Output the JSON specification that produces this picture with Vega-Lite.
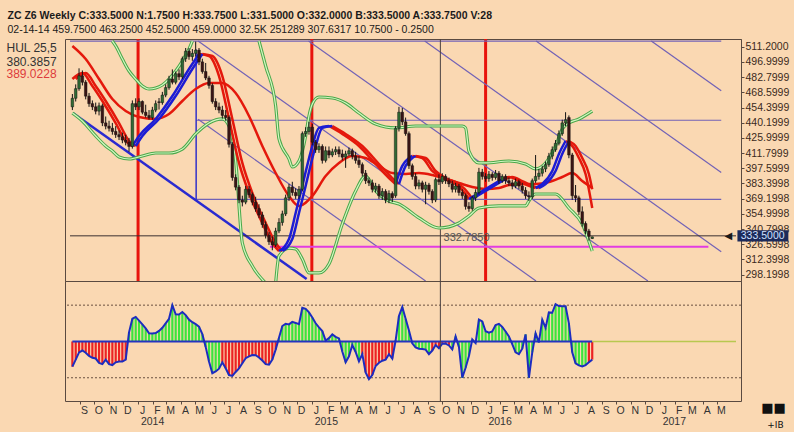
{
"$schema":"https://vega.github.io/schema/vega-lite/v6.json",
"background":"#FAD8B2",
"padding":{"left":5,"top":11,"right":4,"bottom":3},
"bounds":"flush",
"spacing":0,
"title":{"text":"ZC Z6 Weekly C:333.5000 N:1.7500 H:333.7500 L:331.5000 O:332.0000 B:333.5000 A:333.7500 V:28","subtitle":"02-14-14 459.7500 463.2500 452.5000 459.0000 32.5K 251289 307.6317 10.7500 - 0.2500","anchor":"start","frame":"bounds","dx":2,"font":"Liberation Sans","fontSize":10.5,"fontWeight":"bold","color":"#1a1a1a","subtitleFont":"Liberation Sans","subtitleFontSize":10.5,"subtitleColor":"#1a1a1a","subtitlePadding":3,"offset":2},
"config":{"view":{"stroke":"#5a4a40","strokeWidth":1},"font":"Liberation Sans"},
"datasets":{
"yr":[{"d":"2014-01-01"},{"d":"2015-01-01"},{"d":"2016-01-01"}],
"cx":[{"d":"2015-09-28"}],
"lab":[{"d":"2015-11-22","v":327.5,"t":"332.7850"}],
"arr":[{"d":"2017-05-25","v":334.5,"t":"◀"}],
"box":[{"d":"2017-06-13","d2":"2017-09-28","v":339.8,"v2":329.2,"dm":"2017-08-05","p":334.5,"t":"333.5000"}],
"corner":[{"d":"2017-08-28","v":-366,"t":"■■","f":13},{"d":"2017-09-01","v":-460,"t":"+IB","f":9}],
"sg":[
{"d":"2013-08-11","v":516.5,"d2":"2017-05-10","v2":516.5,"k":"p"},
{"d":"2014-05-03","v":442.5,"d2":"2017-05-10","v2":442.5,"k":"p"},
{"d":"2014-05-03","v":368.5,"d2":"2017-05-10","v2":368.5,"k":"p"},
{"d":"2014-05-07","v":516.5,"d2":"2016-04-16","v2":292.3,"k":"p"},
{"d":"2014-12-25","v":516.5,"d2":"2016-12-07","v2":292.3,"k":"p"},
{"d":"2015-08-26","v":516.5,"d2":"2017-05-10","v2":319.6,"k":"p"},
{"d":"2016-04-16","v":516.5,"d2":"2017-05-10","v2":393.6,"k":"p"},
{"d":"2016-12-14","v":516.5,"d2":"2017-05-10","v2":470.0,"k":"p"},
{"d":"2014-05-07","v":443.5,"d2":"2015-08-28","v2":292.3,"k":"p"},
{"d":"2014-05-03","v":508.5,"d2":"2014-05-03","v2":368.5,"k":"b"},
{"d":"2013-08-17","v":449.3,"d2":"2014-12-21","v2":294.2,"k":"B"},
{"d":"2014-10-05","v":324.3,"d2":"2017-04-13","v2":324.3,"k":"m"},
{"d":"2013-08-11","v":334.5,"d2":"2017-06-10","v2":334.5,"k":"x"}
],
"bd":[
{"d":"2013-11-08","v":516.5,"g":"U1"},{"d":"2013-11-15","v":511.9,"g":"U1"},{"d":"2013-11-29","v":499.7,"g":"U1"},{"d":"2013-12-13","v":488.5,"g":"U1"},{"d":"2013-12-27","v":481.0,"g":"U1"},{"d":"2014-01-10","v":474.5,"g":"U1"},{"d":"2014-01-24","v":471.7,"g":"U1"},{"d":"2014-02-07","v":472.6,"g":"U1"},{"d":"2014-02-21","v":475.4,"g":"U1"},{"d":"2014-03-07","v":481.0,"g":"U1"},{"d":"2014-03-21","v":488.5,"g":"U1"},{"d":"2014-04-04","v":497.8,"g":"U1"},{"d":"2014-04-18","v":509.1,"g":"U1"},{"d":"2014-04-25","v":516.5,"g":"U1"},
{"d":"2014-09-12","v":516.5,"g":"U2"},{"d":"2014-09-26","v":493.2,"g":"U2"},{"d":"2014-10-17","v":455.8,"g":"U2"},{"d":"2014-10-24","v":425.0,"g":"U2"},{"d":"2014-11-14","v":406.3,"g":"U2"},{"d":"2014-11-21","v":398.8,"g":"U2"},{"d":"2014-12-05","v":404.4,"g":"U2"},{"d":"2014-12-19","v":427.8,"g":"U2"},{"d":"2014-12-26","v":446.5,"g":"U2"},{"d":"2015-01-02","v":457.7,"g":"U2"},{"d":"2015-01-16","v":464.2,"g":"U2"},{"d":"2015-02-13","v":463.3,"g":"U2"},{"d":"2015-03-13","v":458.6,"g":"U2"},{"d":"2015-04-10","v":449.3,"g":"U2"},{"d":"2015-05-15","v":439.0,"g":"U2"},{"d":"2015-06-26","v":435.3,"g":"U2"},{"d":"2015-08-07","v":437.1,"g":"U2"},{"d":"2015-09-11","v":437.1,"g":"U2"},{"d":"2015-11-13","v":437.1,"g":"U2"},{"d":"2015-11-20","v":435.3,"g":"U2"},{"d":"2015-11-27","v":413.7,"g":"U2"},{"d":"2015-12-18","v":402.6,"g":"U2"},{"d":"2016-01-01","v":402.6,"g":"U2"},{"d":"2016-02-19","v":404.4,"g":"U2"},{"d":"2016-03-25","v":401.6,"g":"U2"},{"d":"2016-04-15","v":397.0,"g":"U2"},{"d":"2016-05-06","v":402.6,"g":"U2"},{"d":"2016-05-27","v":418.4,"g":"U2"},{"d":"2016-06-10","v":434.3,"g":"U2"},{"d":"2016-06-24","v":439.9,"g":"U2"},{"d":"2016-07-15","v":443.7,"g":"U2"},{"d":"2016-08-12","v":451.1,"g":"U2"},
{"d":"2013-08-16","v":449.3,"g":"L1"},{"d":"2013-09-06","v":441.8,"g":"L1"},{"d":"2013-10-04","v":427.8,"g":"L1"},{"d":"2013-10-25","v":418.4,"g":"L1"},{"d":"2013-11-08","v":413.7,"g":"L1"},{"d":"2013-11-22","v":408.2,"g":"L1"},{"d":"2013-12-13","v":406.3,"g":"L1"},{"d":"2014-01-10","v":409.1,"g":"L1"},{"d":"2014-02-07","v":411.9,"g":"L1"},{"d":"2014-03-07","v":411.9,"g":"L1"},{"d":"2014-04-04","v":415.6,"g":"L1"},{"d":"2014-05-02","v":429.7,"g":"L1"},{"d":"2014-05-30","v":439.9,"g":"L1"},{"d":"2014-06-27","v":443.7,"g":"L1"},{"d":"2014-07-11","v":437.1,"g":"L1"},{"d":"2014-07-25","v":404.4,"g":"L1"},{"d":"2014-08-08","v":327.8,"g":"L1"},{"d":"2014-08-29","v":306.3,"g":"L1"},{"d":"2014-09-26","v":290.4,"g":"L1"},
{"d":"2014-10-17","v":290.4,"g":"L2"},{"d":"2014-10-24","v":315.7,"g":"L2"},{"d":"2014-11-14","v":323.1,"g":"L2"},{"d":"2014-11-28","v":322.2,"g":"L2"},{"d":"2014-12-12","v":312.9,"g":"L2"},{"d":"2014-12-26","v":299.8,"g":"L2"},{"d":"2015-01-16","v":299.8,"g":"L2"},{"d":"2015-02-06","v":308.2,"g":"L2"},{"d":"2015-03-06","v":345.6,"g":"L2"},{"d":"2015-04-03","v":376.4,"g":"L2"},{"d":"2015-04-24","v":390.4,"g":"L2"},{"d":"2015-05-15","v":376.4,"g":"L2"},{"d":"2015-06-12","v":367.1,"g":"L2"},{"d":"2015-07-03","v":364.3,"g":"L2"},{"d":"2015-08-14","v":351.2,"g":"L2"},{"d":"2015-09-25","v":341.8,"g":"L2"},{"d":"2015-11-06","v":346.5,"g":"L2"},{"d":"2015-11-27","v":353.0,"g":"L2"},{"d":"2015-12-18","v":360.5,"g":"L2"},{"d":"2016-01-29","v":362.4,"g":"L2"},{"d":"2016-03-25","v":362.4,"g":"L2"},{"d":"2016-04-01","v":367.1,"g":"L2"},{"d":"2016-04-15","v":373.6,"g":"L2"},{"d":"2016-05-27","v":373.6,"g":"L2"},{"d":"2016-06-24","v":360.5,"g":"L2"},{"d":"2016-07-22","v":345.6,"g":"L2"},{"d":"2016-08-12","v":320.3,"g":"L2"}
],
"ln":[
{"d":"2013-08-16","v":511.9,"s":"S","k":"r"},{"d":"2013-09-13","v":499.7,"s":"S","k":"r"},{"d":"2013-10-11","v":481.0,"s":"S","k":"r"},{"d":"2013-11-08","v":462.3,"s":"S","k":"r"},{"d":"2013-12-06","v":451.1,"s":"S","k":"r"},{"d":"2014-01-03","v":445.5,"s":"S","k":"r"},{"d":"2014-02-07","v":443.7,"s":"S","k":"r"},{"d":"2014-03-07","v":448.3,"s":"S","k":"r"},{"d":"2014-04-04","v":460.5,"s":"S","k":"r"},{"d":"2014-05-02","v":471.7,"s":"S","k":"r"},{"d":"2014-05-30","v":477.3,"s":"S","k":"r"},{"d":"2014-06-27","v":477.3,"s":"S","k":"r"},{"d":"2014-07-25","v":467.9,"s":"S","k":"r"},{"d":"2014-08-22","v":446.5,"s":"S","k":"r"},{"d":"2014-09-19","v":418.4,"s":"S","k":"r"},{"d":"2014-10-17","v":393.2,"s":"S","k":"r"},{"d":"2014-11-14","v":371.7,"s":"S","k":"r"},{"d":"2014-12-05","v":362.4,"s":"S","k":"r"},{"d":"2015-01-02","v":371.7,"s":"S","k":"r"},{"d":"2015-01-30","v":390.4,"s":"S","k":"r"},{"d":"2015-02-27","v":402.6,"s":"S","k":"r"},{"d":"2015-03-27","v":409.1,"s":"S","k":"r"},{"d":"2015-04-24","v":407.2,"s":"S","k":"r"},{"d":"2015-05-22","v":399.8,"s":"S","k":"r"},{"d":"2015-06-19","v":393.2,"s":"S","k":"r"},{"d":"2015-07-17","v":392.3,"s":"S","k":"r"},{"d":"2015-08-14","v":393.2,"s":"S","k":"r"},{"d":"2015-09-11","v":391.3,"s":"S","k":"r"},{"d":"2015-10-09","v":387.6,"s":"S","k":"r"},{"d":"2015-11-06","v":383.9,"s":"S","k":"r"},{"d":"2015-12-04","v":380.1,"s":"S","k":"r"},{"d":"2016-01-01","v":378.3,"s":"S","k":"r"},{"d":"2016-01-29","v":379.2,"s":"S","k":"r"},{"d":"2016-02-19","v":382.0,"s":"S","k":"r"},{"d":"2016-03-25","v":382.9,"s":"S","k":"r"},{"d":"2016-04-15","v":382.9,"s":"S","k":"r"},{"d":"2016-05-13","v":384.8,"s":"S","k":"r"},{"d":"2016-06-10","v":389.5,"s":"S","k":"r"},{"d":"2016-07-01","v":393.2,"s":"S","k":"r"},{"d":"2016-07-22","v":385.7,"s":"S","k":"r"},{"d":"2016-08-12","v":379.2,"s":"S","k":"r"},
{"d":"2013-08-16","v":481.0,"s":"1a","k":"r"},{"d":"2013-09-06","v":486.6,"s":"1a","k":"r"},{"d":"2013-09-27","v":474.5,"s":"1a","k":"r"},{"d":"2013-10-18","v":460.5,"s":"1a","k":"r"},{"d":"2013-11-15","v":439.9,"s":"1a","k":"r"},{"d":"2013-12-06","v":423.1,"s":"1a","k":"r"},{"d":"2013-12-20","v":418.4,"s":"1a","k":"r"},
{"d":"2013-12-20","v":418.4,"s":"1b","k":"b"},{"d":"2014-01-03","v":427.8,"s":"1b","k":"b"},{"d":"2014-02-07","v":443.7,"s":"1b","k":"b"},{"d":"2014-03-14","v":465.1,"s":"1b","k":"b"},{"d":"2014-04-18","v":490.4,"s":"1b","k":"b"},{"d":"2014-05-09","v":504.4,"s":"1b","k":"b"},
{"d":"2014-05-09","v":504.4,"s":"1c","k":"r"},{"d":"2014-05-30","v":502.5,"s":"1c","k":"r"},{"d":"2014-06-20","v":483.8,"s":"1c","k":"r"},{"d":"2014-07-11","v":443.7,"s":"1c","k":"r"},{"d":"2014-08-01","v":402.6,"s":"1c","k":"r"},{"d":"2014-08-22","v":374.5,"s":"1c","k":"r"},{"d":"2014-09-19","v":346.5,"s":"1c","k":"r"},{"d":"2014-10-10","v":327.8,"s":"1c","k":"r"},{"d":"2014-10-24","v":320.3,"s":"1c","k":"r"},
{"d":"2014-10-24","v":320.3,"s":"1d","k":"b"},{"d":"2014-11-14","v":331.5,"s":"1d","k":"b"},{"d":"2014-11-28","v":355.8,"s":"1d","k":"b"},{"d":"2014-12-12","v":381.1,"s":"1d","k":"b"},{"d":"2015-01-02","v":418.4,"s":"1d","k":"b"},{"d":"2015-01-16","v":435.3,"s":"1d","k":"b"},{"d":"2015-02-06","v":437.1,"s":"1d","k":"b"},
{"d":"2015-02-06","v":437.1,"s":"1e","k":"r"},{"d":"2015-03-06","v":429.7,"s":"1e","k":"r"},{"d":"2015-04-10","v":418.4,"s":"1e","k":"r"},{"d":"2015-05-15","v":401.6,"s":"1e","k":"r"},{"d":"2015-06-12","v":388.5,"s":"1e","k":"r"},{"d":"2015-06-26","v":382.9,"s":"1e","k":"r"},
{"d":"2015-06-26","v":382.9,"s":"1f","k":"b"},{"d":"2015-07-10","v":399.8,"s":"1f","k":"b"},{"d":"2015-07-24","v":407.2,"s":"1f","k":"b"},{"d":"2015-07-31","v":409.1,"s":"1f","k":"b"},
{"d":"2015-07-31","v":409.1,"s":"1g","k":"r"},{"d":"2015-08-21","v":407.2,"s":"1g","k":"r"},{"d":"2015-09-11","v":395.1,"s":"1g","k":"r"},{"d":"2015-10-02","v":388.5,"s":"1g","k":"r"},{"d":"2015-10-30","v":382.9,"s":"1g","k":"r"},{"d":"2015-11-20","v":373.6,"s":"1g","k":"r"},{"d":"2015-11-27","v":368.9,"s":"1g","k":"r"},
{"d":"2015-11-27","v":368.9,"s":"1h","k":"b"},{"d":"2015-12-25","v":376.4,"s":"1h","k":"b"},{"d":"2016-01-29","v":385.7,"s":"1h","k":"b"},{"d":"2016-02-05","v":387.6,"s":"1h","k":"b"},
{"d":"2016-02-05","v":387.6,"s":"1i","k":"r"},{"d":"2016-02-19","v":389.5,"s":"1i","k":"r"},{"d":"2016-03-11","v":385.7,"s":"1i","k":"r"},{"d":"2016-04-01","v":381.1,"s":"1i","k":"r"},{"d":"2016-04-15","v":379.2,"s":"1i","k":"r"},
{"d":"2016-04-15","v":379.2,"s":"1j","k":"b"},{"d":"2016-04-29","v":382.9,"s":"1j","k":"b"},{"d":"2016-05-20","v":395.1,"s":"1j","k":"b"},{"d":"2016-06-03","v":411.0,"s":"1j","k":"b"},{"d":"2016-06-17","v":423.1,"s":"1j","k":"b"},
{"d":"2016-06-17","v":423.1,"s":"1k","k":"r"},{"d":"2016-07-01","v":418.4,"s":"1k","k":"r"},{"d":"2016-07-15","v":407.2,"s":"1k","k":"r"},{"d":"2016-07-29","v":392.3,"s":"1k","k":"r"},{"d":"2016-08-12","v":360.5,"s":"1k","k":"r"},
{"d":"2013-08-23","v":481.0,"s":"2a","k":"r"},{"d":"2013-09-13","v":486.6,"s":"2a","k":"r"},{"d":"2013-10-04","v":474.5,"s":"2a","k":"r"},{"d":"2013-10-25","v":460.5,"s":"2a","k":"r"},{"d":"2013-11-22","v":439.9,"s":"2a","k":"r"},{"d":"2013-12-13","v":423.1,"s":"2a","k":"r"},{"d":"2013-12-27","v":418.4,"s":"2a","k":"r"},
{"d":"2013-12-27","v":418.4,"s":"2b","k":"b"},{"d":"2014-01-10","v":427.8,"s":"2b","k":"b"},{"d":"2014-02-14","v":443.7,"s":"2b","k":"b"},{"d":"2014-03-21","v":465.1,"s":"2b","k":"b"},{"d":"2014-04-25","v":490.4,"s":"2b","k":"b"},{"d":"2014-05-16","v":504.4,"s":"2b","k":"b"},
{"d":"2014-05-16","v":504.4,"s":"2c","k":"r"},{"d":"2014-06-06","v":502.5,"s":"2c","k":"r"},{"d":"2014-06-27","v":483.8,"s":"2c","k":"r"},{"d":"2014-07-18","v":443.7,"s":"2c","k":"r"},{"d":"2014-08-08","v":402.6,"s":"2c","k":"r"},{"d":"2014-08-29","v":374.5,"s":"2c","k":"r"},{"d":"2014-09-26","v":346.5,"s":"2c","k":"r"},{"d":"2014-10-17","v":327.8,"s":"2c","k":"r"},{"d":"2014-10-31","v":320.3,"s":"2c","k":"r"},
{"d":"2014-10-31","v":320.3,"s":"2d","k":"b"},{"d":"2014-11-21","v":331.5,"s":"2d","k":"b"},{"d":"2014-12-05","v":355.8,"s":"2d","k":"b"},{"d":"2014-12-19","v":381.1,"s":"2d","k":"b"},{"d":"2015-01-09","v":418.4,"s":"2d","k":"b"},{"d":"2015-01-23","v":435.3,"s":"2d","k":"b"},{"d":"2015-02-13","v":437.1,"s":"2d","k":"b"},
{"d":"2015-02-13","v":437.1,"s":"2e","k":"r"},{"d":"2015-03-13","v":429.7,"s":"2e","k":"r"},{"d":"2015-04-17","v":418.4,"s":"2e","k":"r"},{"d":"2015-05-22","v":401.6,"s":"2e","k":"r"},{"d":"2015-06-19","v":388.5,"s":"2e","k":"r"},{"d":"2015-07-03","v":382.9,"s":"2e","k":"r"},
{"d":"2015-07-03","v":382.9,"s":"2f","k":"b"},{"d":"2015-07-17","v":399.8,"s":"2f","k":"b"},{"d":"2015-07-31","v":407.2,"s":"2f","k":"b"},{"d":"2015-08-07","v":409.1,"s":"2f","k":"b"},
{"d":"2015-08-07","v":409.1,"s":"2g","k":"r"},{"d":"2015-08-28","v":407.2,"s":"2g","k":"r"},{"d":"2015-09-18","v":395.1,"s":"2g","k":"r"},{"d":"2015-10-09","v":388.5,"s":"2g","k":"r"},{"d":"2015-11-06","v":382.9,"s":"2g","k":"r"},{"d":"2015-11-27","v":373.6,"s":"2g","k":"r"},{"d":"2015-12-04","v":368.9,"s":"2g","k":"r"},
{"d":"2015-12-04","v":368.9,"s":"2h","k":"b"},{"d":"2016-01-01","v":376.4,"s":"2h","k":"b"},{"d":"2016-02-05","v":385.7,"s":"2h","k":"b"},{"d":"2016-02-12","v":387.6,"s":"2h","k":"b"},
{"d":"2016-02-12","v":387.6,"s":"2i","k":"r"},{"d":"2016-02-26","v":389.5,"s":"2i","k":"r"},{"d":"2016-03-18","v":385.7,"s":"2i","k":"r"},{"d":"2016-04-08","v":381.1,"s":"2i","k":"r"},{"d":"2016-04-22","v":379.2,"s":"2i","k":"r"},
{"d":"2016-04-22","v":379.2,"s":"2j","k":"b"},{"d":"2016-05-06","v":382.9,"s":"2j","k":"b"},{"d":"2016-05-27","v":395.1,"s":"2j","k":"b"},{"d":"2016-06-10","v":411.0,"s":"2j","k":"b"},{"d":"2016-06-24","v":423.1,"s":"2j","k":"b"},
{"d":"2016-06-24","v":423.1,"s":"2k","k":"r"},{"d":"2016-07-08","v":418.4,"s":"2k","k":"r"},{"d":"2016-07-22","v":407.2,"s":"2k","k":"r"},{"d":"2016-08-05","v":392.3,"s":"2k","k":"r"},{"d":"2016-08-12","v":378.0,"s":"2k","k":"r"}
],
"w":[
{"d":"2013-08-16","o":455,"h":467,"l":452,"c":463,"cci":-139,"cc":"r"},
{"d":"2013-08-23","o":463,"h":476,"l":460,"c":472,"cci":-100,"cc":"r"},
{"d":"2013-08-30","o":472,"h":491,"l":470,"c":484,"cci":-60,"cc":"r"},
{"d":"2013-09-06","o":484,"h":489,"l":475,"c":478,"cci":-50,"cc":"r"},
{"d":"2013-09-13","o":478,"h":480,"l":462,"c":465,"cci":-62,"cc":"r"},
{"d":"2013-09-20","o":465,"h":468,"l":455,"c":458,"cci":-80,"cc":"r"},
{"d":"2013-09-27","o":458,"h":461,"l":452,"c":455,"cci":-90,"cc":"r"},
{"d":"2013-10-04","o":455,"h":459,"l":448,"c":451,"cci":-94,"cc":"r"},
{"d":"2013-10-11","o":451,"h":459,"l":447,"c":456,"cci":-118,"cc":"r"},
{"d":"2013-10-18","o":456,"h":458,"l":437,"c":440,"cci":-125,"cc":"r"},
{"d":"2013-10-25","o":440,"h":446,"l":434,"c":437,"cci":-100,"cc":"r"},
{"d":"2013-11-01","o":437,"h":442,"l":432,"c":435,"cci":-125,"cc":"r"},
{"d":"2013-11-08","o":435,"h":440,"l":429,"c":432,"cci":-130,"cc":"r"},
{"d":"2013-11-15","o":432,"h":437,"l":426,"c":429,"cci":-115,"cc":"r"},
{"d":"2013-11-22","o":429,"h":433,"l":424,"c":427,"cci":-111,"cc":"r"},
{"d":"2013-11-29","o":427,"h":431,"l":421,"c":424,"cci":-111,"cc":"r"},
{"d":"2013-12-06","o":424,"h":429,"l":419,"c":422,"cci":-100,"cc":"r"},
{"d":"2013-12-13","o":422,"h":426,"l":413,"c":418,"cci":50,"cc":"g"},
{"d":"2013-12-20","o":418,"h":461,"l":416,"c":458,"cci":125,"cc":"g"},
{"d":"2013-12-27","o":458,"h":463,"l":452,"c":455,"cci":135,"cc":"g"},
{"d":"2014-01-03","o":455,"h":463,"l":452,"c":460,"cci":115,"cc":"g"},
{"d":"2014-01-10","o":460,"h":461,"l":448,"c":450,"cci":94,"cc":"g"},
{"d":"2014-01-17","o":450,"h":457,"l":445,"c":447,"cci":72,"cc":"g"},
{"d":"2014-01-24","o":447,"h":452,"l":443,"c":445,"cci":45,"cc":"g"},
{"d":"2014-01-31","o":445,"h":455,"l":443,"c":452,"cci":44,"cc":"g"},
{"d":"2014-02-07","o":452,"h":461,"l":450,"c":458,"cci":46,"cc":"g"},
{"d":"2014-02-14","o":459.75,"h":463.25,"l":452.5,"c":459,"cci":58,"cc":"g"},
{"d":"2014-02-21","o":459,"h":469,"l":457,"c":466,"cci":75,"cc":"g"},
{"d":"2014-02-28","o":466,"h":476,"l":464,"c":473,"cci":100,"cc":"g"},
{"d":"2014-03-07","o":473,"h":484,"l":471,"c":481,"cci":125,"cc":"g"},
{"d":"2014-03-14","o":481,"h":490,"l":476,"c":478,"cci":200,"cc":"g"},
{"d":"2014-03-21","o":478,"h":488,"l":476,"c":486,"cci":150,"cc":"g"},
{"d":"2014-03-28","o":486,"h":490,"l":480,"c":483,"cci":148,"cc":"g"},
{"d":"2014-04-04","o":483,"h":502,"l":481,"c":500,"cci":162,"cc":"g"},
{"d":"2014-04-11","o":500,"h":510,"l":497,"c":507,"cci":145,"cc":"g"},
{"d":"2014-04-18","o":507,"h":510,"l":499,"c":502,"cci":120,"cc":"g"},
{"d":"2014-04-25","o":502,"h":509,"l":498,"c":505,"cci":106,"cc":"g"},
{"d":"2014-05-02","o":505,"h":516,"l":502,"c":508,"cci":95,"cc":"g"},
{"d":"2014-05-09","o":508,"h":510,"l":494,"c":497,"cci":82,"cc":"g"},
{"d":"2014-05-16","o":497,"h":500,"l":486,"c":488,"cci":40,"cc":"g"},
{"d":"2014-05-23","o":488,"h":496,"l":480,"c":482,"cci":-30,"cc":"g"},
{"d":"2014-05-30","o":482,"h":484,"l":472,"c":475,"cci":-110,"cc":"g"},
{"d":"2014-06-06","o":475,"h":477,"l":458,"c":460,"cci":-175,"cc":"g"},
{"d":"2014-06-13","o":460,"h":463,"l":452,"c":455,"cci":-165,"cc":"g"},
{"d":"2014-06-20","o":455,"h":459,"l":449,"c":452,"cci":-150,"cc":"g"},
{"d":"2014-06-27","o":452,"h":456,"l":444,"c":447,"cci":-115,"cc":"r"},
{"d":"2014-07-04","o":447,"h":452,"l":442,"c":445,"cci":-148,"cc":"r"},
{"d":"2014-07-11","o":445,"h":447,"l":417,"c":420,"cci":-185,"cc":"r"},
{"d":"2014-07-18","o":420,"h":422,"l":386,"c":389,"cci":-190,"cc":"r"},
{"d":"2014-07-25","o":389,"h":392,"l":377,"c":380,"cci":-168,"cc":"r"},
{"d":"2014-08-01","o":380,"h":382,"l":365,"c":368,"cci":-148,"cc":"r"},
{"d":"2014-08-08","o":368,"h":372,"l":362,"c":366,"cci":-120,"cc":"r"},
{"d":"2014-08-15","o":366,"h":381,"l":364,"c":378,"cci":-92,"cc":"r"},
{"d":"2014-08-22","o":378,"h":381,"l":370,"c":373,"cci":-82,"cc":"r"},
{"d":"2014-08-29","o":373,"h":375,"l":363,"c":366,"cci":-75,"cc":"r"},
{"d":"2014-09-05","o":366,"h":371,"l":357,"c":360,"cci":-76,"cc":"r"},
{"d":"2014-09-12","o":360,"h":364,"l":351,"c":354,"cci":-88,"cc":"r"},
{"d":"2014-09-19","o":354,"h":357,"l":342,"c":345,"cci":-105,"cc":"r"},
{"d":"2014-09-26","o":345,"h":348,"l":332,"c":335,"cci":-125,"cc":"r"},
{"d":"2014-10-03","o":335,"h":338,"l":326,"c":329,"cci":-128,"cc":"r"},
{"d":"2014-10-10","o":329,"h":334,"l":321,"c":326,"cci":-100,"cc":"r"},
{"d":"2014-10-17","o":326,"h":342,"l":324,"c":339,"cci":-45,"cc":"r"},
{"d":"2014-10-24","o":339,"h":351,"l":337,"c":347,"cci":20,"cc":"g"},
{"d":"2014-10-31","o":347,"h":358,"l":344,"c":355,"cci":85,"cc":"g"},
{"d":"2014-11-07","o":355,"h":373,"l":353,"c":370,"cci":97,"cc":"g"},
{"d":"2014-11-14","o":370,"h":383,"l":367,"c":380,"cci":94,"cc":"g"},
{"d":"2014-11-21","o":380,"h":385,"l":372,"c":375,"cci":108,"cc":"g"},
{"d":"2014-11-28","o":375,"h":379,"l":369,"c":372,"cci":102,"cc":"g"},
{"d":"2014-12-05","o":372,"h":381,"l":369,"c":378,"cci":95,"cc":"g"},
{"d":"2014-12-12","o":378,"h":432,"l":376,"c":430,"cci":185,"cc":"g"},
{"d":"2014-12-19","o":430,"h":436,"l":427,"c":432,"cci":180,"cc":"g"},
{"d":"2014-12-26","o":432,"h":441,"l":429,"c":436,"cci":160,"cc":"g"},
{"d":"2015-01-02","o":436,"h":439,"l":419,"c":422,"cci":132,"cc":"g"},
{"d":"2015-01-09","o":422,"h":424,"l":412,"c":415,"cci":100,"cc":"g"},
{"d":"2015-01-16","o":415,"h":421,"l":412,"c":418,"cci":78,"cc":"g"},
{"d":"2015-01-23","o":418,"h":420,"l":402,"c":405,"cci":57,"cc":"g"},
{"d":"2015-01-30","o":405,"h":418,"l":403,"c":414,"cci":5,"cc":"g"},
{"d":"2015-02-06","o":414,"h":418,"l":407,"c":410,"cci":18,"cc":"g"},
{"d":"2015-02-13","o":410,"h":416,"l":408,"c":413,"cci":39,"cc":"g"},
{"d":"2015-02-20","o":413,"h":418,"l":410,"c":415,"cci":25,"cc":"g"},
{"d":"2015-02-27","o":415,"h":418,"l":408,"c":411,"cci":17,"cc":"g"},
{"d":"2015-03-06","o":411,"h":415,"l":405,"c":408,"cci":-55,"cc":"g"},
{"d":"2015-03-13","o":408,"h":414,"l":398,"c":411,"cci":-115,"cc":"g"},
{"d":"2015-03-20","o":411,"h":417,"l":409,"c":414,"cci":-82,"cc":"g"},
{"d":"2015-03-27","o":414,"h":416,"l":406,"c":409,"cci":-20,"cc":"g"},
{"d":"2015-04-03","o":409,"h":413,"l":402,"c":405,"cci":-58,"cc":"g"},
{"d":"2015-04-10","o":405,"h":409,"l":398,"c":401,"cci":-110,"cc":"g"},
{"d":"2015-04-17","o":401,"h":403,"l":390,"c":393,"cci":-70,"cc":"r"},
{"d":"2015-04-24","o":393,"h":396,"l":383,"c":386,"cci":-170,"cc":"r"},
{"d":"2015-05-01","o":386,"h":389,"l":381,"c":384,"cci":-208,"cc":"r"},
{"d":"2015-05-08","o":384,"h":387,"l":375,"c":378,"cci":-185,"cc":"r"},
{"d":"2015-05-15","o":378,"h":384,"l":375,"c":381,"cci":-135,"cc":"r"},
{"d":"2015-05-22","o":381,"h":383,"l":369,"c":372,"cci":-117,"cc":"r"},
{"d":"2015-05-29","o":372,"h":379,"l":368,"c":376,"cci":-106,"cc":"r"},
{"d":"2015-06-05","o":376,"h":378,"l":365,"c":368,"cci":-100,"cc":"r"},
{"d":"2015-06-12","o":368,"h":377,"l":365,"c":374,"cci":-70,"cc":"r"},
{"d":"2015-06-19","o":374,"h":376,"l":366,"c":370,"cci":-94,"cc":"r"},
{"d":"2015-06-26","o":372,"h":437,"l":370,"c":435,"cci":5,"cc":"g"},
{"d":"2015-07-03","o":435,"h":455,"l":432,"c":450,"cci":140,"cc":"g"},
{"d":"2015-07-10","o":450,"h":454,"l":438,"c":441,"cci":190,"cc":"g"},
{"d":"2015-07-17","o":441,"h":445,"l":428,"c":430,"cci":125,"cc":"g"},
{"d":"2015-07-24","o":430,"h":432,"l":397,"c":400,"cci":60,"cc":"g"},
{"d":"2015-07-31","o":400,"h":402,"l":387,"c":390,"cci":-10,"cc":"g"},
{"d":"2015-08-07","o":390,"h":393,"l":378,"c":381,"cci":-33,"cc":"g"},
{"d":"2015-08-14","o":381,"h":387,"l":378,"c":384,"cci":-40,"cc":"g"},
{"d":"2015-08-21","o":384,"h":386,"l":375,"c":378,"cci":-42,"cc":"g"},
{"d":"2015-08-28","o":378,"h":385,"l":364,"c":382,"cci":-45,"cc":"g"},
{"d":"2015-09-04","o":382,"h":384,"l":373,"c":376,"cci":-70,"cc":"g"},
{"d":"2015-09-11","o":376,"h":378,"l":365,"c":368,"cci":-50,"cc":"r"},
{"d":"2015-09-18","o":368,"h":389,"l":366,"c":387,"cci":-20,"cc":"r"},
{"d":"2015-09-25","o":387,"h":392,"l":382,"c":385,"cci":-37,"cc":"r"},
{"d":"2015-10-02","o":385,"h":393,"l":383,"c":390,"cci":-12,"cc":"r"},
{"d":"2015-10-09","o":390,"h":392,"l":383,"c":386,"cci":-12,"cc":"r"},
{"d":"2015-10-16","o":386,"h":389,"l":380,"c":383,"cci":-22,"cc":"r"},
{"d":"2015-10-23","o":383,"h":386,"l":375,"c":378,"cci":-44,"cc":"g"},
{"d":"2015-10-30","o":378,"h":384,"l":375,"c":381,"cci":28,"cc":"g"},
{"d":"2015-11-06","o":381,"h":383,"l":372,"c":375,"cci":-30,"cc":"g"},
{"d":"2015-11-13","o":375,"h":378,"l":369,"c":372,"cci":-200,"cc":"g"},
{"d":"2015-11-20","o":372,"h":374,"l":359,"c":362,"cci":-145,"cc":"g"},
{"d":"2015-11-27","o":362,"h":366,"l":357,"c":360,"cci":-80,"cc":"g"},
{"d":"2015-12-04","o":360,"h":372,"l":358,"c":370,"cci":11,"cc":"g"},
{"d":"2015-12-11","o":370,"h":378,"l":367,"c":375,"cci":-9,"cc":"g"},
{"d":"2015-12-18","o":375,"h":398,"l":373,"c":394,"cci":120,"cc":"g"},
{"d":"2015-12-25","o":394,"h":397,"l":387,"c":390,"cci":110,"cc":"g"},
{"d":"2016-01-01","o":390,"h":393,"l":385,"c":388,"cci":56,"cc":"g"},
{"d":"2016-01-08","o":388,"h":395,"l":385,"c":392,"cci":48,"cc":"g"},
{"d":"2016-01-15","o":392,"h":394,"l":386,"c":389,"cci":55,"cc":"g"},
{"d":"2016-01-22","o":389,"h":396,"l":387,"c":393,"cci":90,"cc":"g"},
{"d":"2016-01-29","o":393,"h":395,"l":383,"c":386,"cci":97,"cc":"g"},
{"d":"2016-02-05","o":386,"h":392,"l":384,"c":390,"cci":80,"cc":"g"},
{"d":"2016-02-12","o":390,"h":392,"l":383,"c":386,"cci":55,"cc":"g"},
{"d":"2016-02-19","o":386,"h":389,"l":381,"c":384,"cci":28,"cc":"g"},
{"d":"2016-02-26","o":384,"h":387,"l":378,"c":381,"cci":-15,"cc":"g"},
{"d":"2016-03-04","o":381,"h":388,"l":379,"c":385,"cci":-60,"cc":"g"},
{"d":"2016-03-11","o":385,"h":387,"l":378,"c":381,"cci":-70,"cc":"g"},
{"d":"2016-03-18","o":381,"h":384,"l":374,"c":377,"cci":-40,"cc":"g"},
{"d":"2016-03-25","o":377,"h":380,"l":369,"c":372,"cci":39,"cc":"g"},
{"d":"2016-04-01","o":372,"h":376,"l":367,"c":371,"cci":-200,"cc":"g"},
{"d":"2016-04-08","o":371,"h":388,"l":369,"c":386,"cci":-60,"cc":"g"},
{"d":"2016-04-15","o":386,"h":410,"l":384,"c":390,"cci":45,"cc":"g"},
{"d":"2016-04-22","o":390,"h":397,"l":387,"c":393,"cci":-5,"cc":"g"},
{"d":"2016-04-29","o":393,"h":400,"l":390,"c":397,"cci":120,"cc":"g"},
{"d":"2016-05-06","o":397,"h":404,"l":394,"c":401,"cci":75,"cc":"g"},
{"d":"2016-05-13","o":401,"h":412,"l":399,"c":409,"cci":160,"cc":"g"},
{"d":"2016-05-20","o":409,"h":418,"l":406,"c":415,"cci":158,"cc":"g"},
{"d":"2016-05-27","o":415,"h":424,"l":413,"c":421,"cci":205,"cc":"g"},
{"d":"2016-06-03","o":421,"h":433,"l":419,"c":430,"cci":195,"cc":"g"},
{"d":"2016-06-10","o":430,"h":443,"l":428,"c":440,"cci":194,"cc":"g"},
{"d":"2016-06-17","o":440,"h":450,"l":437,"c":443,"cci":194,"cc":"g"},
{"d":"2016-06-24","o":445,"h":447,"l":407,"c":410,"cci":100,"cc":"g"},
{"d":"2016-07-01","o":410,"h":412,"l":368,"c":372,"cci":-60,"cc":"g"},
{"d":"2016-07-08","o":372,"h":382,"l":366,"c":370,"cci":-120,"cc":"g"},
{"d":"2016-07-15","o":370,"h":372,"l":354,"c":357,"cci":-132,"cc":"g"},
{"d":"2016-07-22","o":357,"h":362,"l":343,"c":346,"cci":-138,"cc":"g"},
{"d":"2016-07-29","o":346,"h":348,"l":336,"c":339,"cci":-130,"cc":"g"},
{"d":"2016-08-05","o":339,"h":341,"l":330,"c":334,"cci":-115,"cc":"r"},
{"d":"2016-08-12","o":332,"h":333.75,"l":331.5,"c":333.5,"cci":-100,"cc":"r"}
]
},
"vconcat":[
{
"width":676,"height":242,
"resolve":{"axis":{"y":"independent"}},
"layer":[
{"data":{"name":"yr"},"mark":{"type":"rule","color":"#e8140c","strokeWidth":3},
 "encoding":{"x":{"field":"d","type":"temporal","axis":null,"scale":{"type":"utc","nice":false,"domain":[{"year":2013,"month":8,"date":11,"utc":true},{"year":2017,"month":6,"date":10,"utc":true}]}}}},
{"data":{"name":"sg"},"transform":[{"filter":"datum.k=='p'"}],"mark":{"type":"rule","color":"#7262b6","strokeWidth":1.2,"clip":true},
 "encoding":{"x":{"field":"d","type":"temporal","axis":null},"x2":{"field":"d2"},
 "y":{"field":"v","type":"quantitative","scale":{"domain":[292.3,518.4],"nice":false,"zero":false},
  "axis":{"orient":"right","values":[298.1998,312.3998,326.5998,340.7998,354.9998,369.1998,383.3998,397.5999,411.7999,425.9999,440.1999,454.3999,468.5999,482.7999,496.9999,511.2],"format":".4f","title":null,"grid":false,"tickSize":3,"labelPadding":1,"labelFont":"Liberation Sans","labelFontSize":10.5,"labelColor":"#3a2a20","domainColor":"#5a4a40","tickColor":"#5a4a40","labelOverlap":false}},
 "y2":{"field":"v2"}}},
{"data":{"name":"sg"},"transform":[{"filter":"datum.k=='b'"}],"mark":{"type":"rule","color":"#3232c8","strokeWidth":1.5},
 "encoding":{"x":{"field":"d","type":"temporal","axis":null},"x2":{"field":"d2"},"y":{"field":"v","type":"quantitative","axis":null},"y2":{"field":"v2"}}},
{"data":{"name":"sg"},"transform":[{"filter":"datum.k=='B'"}],"mark":{"type":"rule","color":"#2a2ad0","strokeWidth":2.5,"clip":true},
 "encoding":{"x":{"field":"d","type":"temporal","axis":null},"x2":{"field":"d2"},"y":{"field":"v","type":"quantitative","axis":null},"y2":{"field":"v2"}}},
{"data":{"name":"sg"},"transform":[{"filter":"datum.k=='m'"}],"mark":{"type":"rule","color":"#e23ce2","strokeWidth":2},
 "encoding":{"x":{"field":"d","type":"temporal","axis":null},"x2":{"field":"d2"},"y":{"field":"v","type":"quantitative","axis":null},"y2":{"field":"v2"}}},
{"data":{"name":"sg"},"transform":[{"filter":"datum.k=='x'"}],"mark":{"type":"rule","color":"#3a3030","strokeWidth":1},
 "encoding":{"x":{"field":"d","type":"temporal","axis":null},"x2":{"field":"d2"},"y":{"field":"v","type":"quantitative","axis":null},"y2":{"field":"v2"}}},
{"data":{"name":"cx"},"mark":{"type":"rule","color":"#4a4040","strokeWidth":1},
 "encoding":{"x":{"field":"d","type":"temporal","axis":null}}},
{"data":{"name":"bd"},"mark":{"type":"line","color":"#4aa84a","strokeWidth":3.2,"clip":true,"interpolate":"monotone"},
 "encoding":{"x":{"field":"d","type":"temporal","axis":null},"y":{"field":"v","type":"quantitative","axis":null},"detail":{"field":"g"}}},
{"data":{"name":"bd"},"mark":{"type":"line","color":"#d4f7c2","strokeWidth":1.2,"clip":true,"interpolate":"monotone"},
 "encoding":{"x":{"field":"d","type":"temporal","axis":null},"y":{"field":"v","type":"quantitative","axis":null},"detail":{"field":"g"}}},
{"data":{"name":"ln"},"transform":[{"filter":"datum.k=='r'"}],"mark":{"type":"line","color":"#e4180c","strokeWidth":2.5,"clip":true,"interpolate":"monotone"},
 "encoding":{"x":{"field":"d","type":"temporal","axis":null},"y":{"field":"v","type":"quantitative","axis":null},"detail":{"field":"s"}}},
{"data":{"name":"ln"},"transform":[{"filter":"datum.k=='b'"}],"mark":{"type":"line","color":"#1c1cd4","strokeWidth":2.5,"clip":true,"interpolate":"monotone"},
 "encoding":{"x":{"field":"d","type":"temporal","axis":null},"y":{"field":"v","type":"quantitative","axis":null},"detail":{"field":"s"}}},
{"data":{"name":"w"},"mark":{"type":"rule","color":"#141414","strokeWidth":1},
 "encoding":{"x":{"field":"d","type":"temporal","axis":null},"y":{"field":"l","type":"quantitative","axis":null},"y2":{"field":"h"}}},
{"data":{"name":"w"},"mark":{"type":"bar","size":2.6,"stroke":"#141414","strokeWidth":0.5},
 "encoding":{"x":{"field":"d","type":"temporal","axis":null},"y":{"field":"o","type":"quantitative","axis":null},"y2":{"field":"c"},
 "color":{"condition":{"test":"datum.c >= datum.o","value":"#2f6b34"},"value":"#3b1414"}}},
{"data":{"name":"lab"},"mark":{"type":"text","color":"#555555","fontSize":11,"font":"Liberation Sans","baseline":"bottom"},
 "encoding":{"x":{"field":"d","type":"temporal","axis":null},"y":{"field":"v","type":"quantitative",
  "axis":{"orient":"left","values":[510.3,497.8,486.0],"labelExpr":"datum.value > 505 ? 'HUL  25,5' : datum.value > 490 ? '380.3857' : '389.0228'","labelColor":{"condition":{"test":"datum.value < 490","value":"#dd3b3b"},"value":"#333333"},"labelAlign":"left","labelBaseline":"middle","labelPadding":59,"ticks":false,"tickSize":0,"domain":false,"grid":false,"title":null,"labelFont":"Liberation Sans","labelFontSize":12,"labelOverlap":false}},
 "text":{"field":"t"}}},
{"data":{"name":"arr"},"mark":{"type":"text","color":"#1a1a1a","fontSize":10,"font":"DejaVu Sans"},
 "encoding":{"x":{"field":"d","type":"temporal","axis":null},"y":{"field":"v","type":"quantitative","axis":null},"text":{"field":"t"}}},
{"data":{"name":"box"},"mark":{"type":"rect","color":"#1c2a5a"},
 "encoding":{"x":{"field":"d","type":"temporal","axis":null},"x2":{"field":"d2"},"y":{"field":"v","type":"quantitative","axis":null},"y2":{"field":"v2"}}},
{"data":{"name":"box"},"mark":{"type":"text","color":"#cfe0ff","fontSize":10.5,"font":"Liberation Sans"},
 "encoding":{"x":{"field":"dm","type":"temporal","axis":null},"y":{"field":"p","type":"quantitative","axis":null},"text":{"field":"t"}}}
]
},
{
"width":676,"height":120,
"resolve":{"axis":{"x":"independent"}},
"layer":[
{"data":{"values":[{}]},"mark":{"type":"rule","color":"#6a5040","strokeDash":[2,2],"strokeWidth":1},
 "encoding":{"y":{"datum":200,"type":"quantitative","scale":{"domain":[-328,333],"nice":false,"zero":false},
  "axis":{"orient":"right","values":[200,0,-200],"labelExpr":"datum.value == 200 ? '200.0000' : datum.value == 0 ? 'CCI  14,8' : '- 200.0000'","title":null,"grid":false,"tickSize":3,"labelPadding":1,"labelFont":"Liberation Sans","labelFontSize":10.5,"labelColor":"#3a2a20","domainColor":"#5a4a40","tickColor":"#5a4a40","labelOverlap":false}}}},
{"data":{"values":[{}]},"mark":{"type":"rule","color":"#6a5040","strokeDash":[2,2],"strokeWidth":1},
 "encoding":{"y":{"datum":-200,"type":"quantitative","axis":null}}},
{"data":{"name":"w"},"mark":{"type":"bar","size":2.2},
 "encoding":{"x":{"field":"d","type":"temporal","scale":{"type":"utc","nice":false,"domain":[{"year":2013,"month":8,"date":11,"utc":true},{"year":2017,"month":6,"date":10,"utc":true}]},
  "axis":{"orient":"bottom","values":[
{"year":2013,"month":9,"date":1,"utc":true},{"year":2013,"month":10,"date":1,"utc":true},{"year":2013,"month":11,"date":1,"utc":true},{"year":2013,"month":12,"date":1,"utc":true},
{"year":2014,"month":1,"date":1,"utc":true},{"year":2014,"month":2,"date":1,"utc":true},{"year":2014,"month":3,"date":1,"utc":true},{"year":2014,"month":4,"date":1,"utc":true},{"year":2014,"month":5,"date":1,"utc":true},{"year":2014,"month":6,"date":1,"utc":true},{"year":2014,"month":7,"date":1,"utc":true},{"year":2014,"month":8,"date":1,"utc":true},{"year":2014,"month":9,"date":1,"utc":true},{"year":2014,"month":10,"date":1,"utc":true},{"year":2014,"month":11,"date":1,"utc":true},{"year":2014,"month":12,"date":1,"utc":true},
{"year":2015,"month":1,"date":1,"utc":true},{"year":2015,"month":2,"date":1,"utc":true},{"year":2015,"month":3,"date":1,"utc":true},{"year":2015,"month":4,"date":1,"utc":true},{"year":2015,"month":5,"date":1,"utc":true},{"year":2015,"month":6,"date":1,"utc":true},{"year":2015,"month":7,"date":1,"utc":true},{"year":2015,"month":8,"date":1,"utc":true},{"year":2015,"month":9,"date":1,"utc":true},{"year":2015,"month":10,"date":1,"utc":true},{"year":2015,"month":11,"date":1,"utc":true},{"year":2015,"month":12,"date":1,"utc":true},
{"year":2016,"month":1,"date":1,"utc":true},{"year":2016,"month":2,"date":1,"utc":true},{"year":2016,"month":3,"date":1,"utc":true},{"year":2016,"month":4,"date":1,"utc":true},{"year":2016,"month":5,"date":1,"utc":true},{"year":2016,"month":6,"date":1,"utc":true},{"year":2016,"month":7,"date":1,"utc":true},{"year":2016,"month":8,"date":1,"utc":true},{"year":2016,"month":9,"date":1,"utc":true},{"year":2016,"month":10,"date":1,"utc":true},{"year":2016,"month":11,"date":1,"utc":true},{"year":2016,"month":12,"date":1,"utc":true},
{"year":2017,"month":1,"date":1,"utc":true},{"year":2017,"month":2,"date":1,"utc":true},{"year":2017,"month":3,"date":1,"utc":true},{"year":2017,"month":4,"date":1,"utc":true},{"year":2017,"month":5,"date":1,"utc":true}],
  "labelExpr":"slice(utcFormat(datum.value,'%b'),0,1)","labelFlush":false,"labelOverlap":false,"labelOffset":4,"labelPadding":1,"tickSize":3,"domain":false,"grid":false,"title":null,"labelFont":"Liberation Sans","labelFontSize":10.5,"labelColor":"#333333","tickColor":"#5a4a40"}},
 "y":{"field":"cci","type":"quantitative","axis":null},"y2":{"datum":0},
 "color":{"condition":{"test":"datum.cc == 'g'","value":"#3ce43c"},"value":"#ec2222"}}},
{"data":{"values":[{}]},"mark":{"type":"rule","color":"#2434c0","strokeWidth":2},
 "encoding":{"x":{"datum":{"year":2013,"month":8,"date":16,"utc":true},"type":"temporal","axis":null},"x2":{"datum":{"year":2016,"month":8,"date":12,"utc":true}},"y":{"datum":0,"type":"quantitative","axis":null}}},
{"data":{"values":[{}]},"mark":{"type":"rule","color":"#b8c850","strokeWidth":1.5},
 "encoding":{"x":{"datum":{"year":2016,"month":8,"date":12,"utc":true},"type":"temporal","axis":null},"x2":{"datum":{"year":2017,"month":6,"date":10,"utc":true}},"y":{"datum":0,"type":"quantitative","axis":null}}},
{"data":{"name":"w"},"mark":{"type":"line","color":"#1c2cc0","strokeWidth":2},
 "encoding":{"x":{"field":"d","type":"temporal","axis":null},"y":{"field":"cci","type":"quantitative","axis":null}}},
{"data":{"name":"corner"},"mark":{"type":"text","color":"#111111","font":"DejaVu Sans"},
 "encoding":{"x":{"field":"d","type":"temporal","axis":null},"y":{"field":"v","type":"quantitative","axis":null},"text":{"field":"t"},"size":{"field":"f","type":"quantitative","scale":null}}},
{"data":{"name":"cx"},"mark":{"type":"rule","color":"#4a4040","strokeWidth":1},
 "encoding":{"x":{"field":"d","type":"temporal",
  "axis":{"orient":"bottom","values":[{"year":2014,"month":1,"date":1,"utc":true},{"year":2015,"month":1,"date":1,"utc":true},{"year":2016,"month":1,"date":1,"utc":true},{"year":2017,"month":1,"date":1,"utc":true}],"labelExpr":"utcFormat(datum.value,'%Y')","labelFlush":false,"labelOverlap":false,"labelOffset":14,"labelPadding":15,"ticks":false,"tickSize":0,"domain":false,"grid":false,"title":null,"labelFont":"Liberation Sans","labelFontSize":10.5,"labelColor":"#333333"}}}}
]
}
]
}
